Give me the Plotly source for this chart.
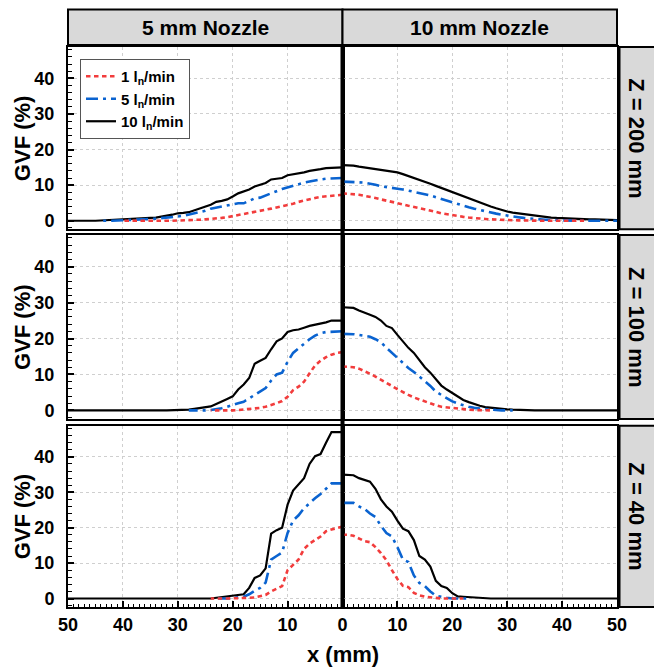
import plotly.graph_objects as go

# ---------------- data (GVF in %, x in mm, 1 mm steps from the axis) ----------------
X_MM = [0, 1, 2, 3, 4, 5, 6, 7, 8, 9, 10, 11, 12, 13, 14, 15, 16, 17, 18, 19, 20,
        21, 22, 23, 24, 25, 26, 27, 28, 29, 30, 31, 32, 33, 34, 35, 36, 37, 38, 39, 40,
        41, 42, 43, 44, 45, 46, 47, 48, 49, 50]

NOZZLES = ["5 mm Nozzle", "10 mm Nozzle"]
HEIGHTS = ["Z = 200 mm", "Z = 100 mm", "Z = 40 mm"]
FLOW_LABELS = ["1 l<sub>n</sub>/min", "5 l<sub>n</sub>/min", "10 l<sub>n</sub>/min"]
X_TICKS_LEFT = [50, 40, 30, 20, 10, 0]
X_TICKS_RIGHT = [10, 20, 30, 40, 50]
Y_TICKS = [0, 10, 20, 30, 40]

# 5 mm nozzle, Z = 200 mm
N5_Z200_Q1 = [7.3, 7.2, 7.1, 6.9, 6.7, 6.4, 6.1, 5.7, 5.3, 4.8, 4.4, 4.0, 3.7, 3.4, 3.1, 2.8, 2.4, 2.1,
              1.7, 1.4, 1.2, 1.0, 0.8, 0.6, 0.5, 0.4, 0.3, 0.2, 0.2, 0.1, 0.1, 0, 0, 0, 0, 0, 0, 0, 0, 0, 0]
N5_Z200_Q5 = [12.0, 12.0, 12.0, 11.8, 11.6, 11.4, 11.0, 10.7, 10.3, 9.8, 9.3, 8.9, 8.3, 7.7, 7.0, 6.5,
              6.3, 5.5, 4.9, 4.9, 4.6, 4.1, 3.8, 3.6, 3.4, 2.8, 2.4, 2.0, 1.7, 1.4, 1.2, 1.0, 0.8, 0.7,
              0.6, 0.5, 0.4, 0.3, 0.2, 0.2, 0.1, 0, 0, 0, 0]
N5_Z200_Q10 = [15.0, 15.0, 15.0, 14.8, 14.5, 14.3, 14.0, 13.6, 13.3, 13.0, 12.8, 12.0, 11.8, 11.6, 10.6,
               10.2, 9.6, 8.8, 8.2, 7.7, 6.8, 6.0, 5.6, 5.3, 4.5, 4.0, 3.4, 2.8, 2.4, 2.2, 2.1, 1.7, 1.4,
               1.2, 0.9, 0.8, 0.7, 0.6, 0.5, 0.4, 0.3, 0.2, 0.2, 0.1, 0.1, 0, 0, 0, 0, 0, 0]

# 10 mm nozzle, Z = 200 mm
N10_Z200_Q1 = [7.7, 7.6, 7.5, 7.3, 7.0, 6.8, 6.4, 6.0, 5.7, 5.3, 5.0, 4.6, 4.2, 3.9, 3.5, 3.1, 2.8, 2.5,
               2.1, 1.8, 1.5, 1.3, 1.1, 0.9, 0.7, 0.6, 0.5, 0.4, 0.3, 0.3, 0.2, 0.2, 0.1, 0.1, 0, 0, 0, 0,
               0, 0, 0, 0, 0, 0, 0]
N10_Z200_Q5 = [11.0, 11.0, 10.9, 10.8, 10.7, 10.5, 10.1, 9.7, 9.4, 9.2, 9.0, 8.8, 8.5, 8.2, 7.8, 7.5, 7.1,
               6.6, 6.1, 5.6, 5.2, 4.7, 4.3, 3.8, 3.4, 3.0, 2.6, 2.3, 2.0, 1.7, 1.4, 1.2, 1.0, 0.8, 0.6,
               0.5, 0.4, 0.3, 0.2, 0.2, 0.1, 0, 0, 0, 0, 0, 0, 0, 0, 0, 0]
N10_Z200_Q10 = [15.6, 15.6, 15.5, 15.2, 15.0, 14.7, 14.5, 14.3, 14.2, 14.0, 13.6, 13.1, 12.6, 12.1, 11.5,
                11.0, 10.4, 9.8, 9.2, 8.6, 8.0, 7.5, 6.9, 6.3, 5.7, 5.1, 4.5, 4.0, 3.5, 3.0, 2.6, 2.3, 2.1,
                1.8, 1.5, 1.3, 1.1, 1.0, 0.9, 0.8, 0.7, 0.6, 0.5, 0.5, 0.4, 0.4, 0.4, 0.3, 0.3, 0.2, 0.2]

# 5 mm nozzle, Z = 100 mm
N5_Z100_Q1 = [16.2, 16.0, 15.5, 14.8, 13.8, 12.5, 10.3, 8.0, 6.6, 5.6, 3.8, 2.6, 2.0, 1.4, 1.0, 0.7, 0.5,
              0.3, 0.2, 0.1, 0, 0, 0, 0, 0]
N5_Z100_Q5 = [22.0, 22.0, 22.0, 21.8, 21.5, 20.8, 19.8, 18.5, 17.2, 16.0, 13.5, 10.5, 10.0, 8.3, 6.2, 5.3,
              4.3, 3.3, 2.4, 2.0, 1.4, 1.0, 0.6, 0.3, 0.1, 0, 0, 0, 0]
N5_Z100_Q10 = [25.0, 25.0, 25.0, 24.5, 24.2, 24.0, 23.5, 23.0, 22.5, 22.3, 21.8, 20.0, 19.2, 17.0, 14.6,
               13.8, 13.0, 9.0, 7.2, 5.8, 3.9, 3.2, 2.6, 1.8, 1.1, 0.8, 0.6, 0.4, 0.2, 0.1, 0, 0, 0, 0, 0,
               0, 0, 0, 0, 0, 0, 0, 0, 0, 0, 0, 0, 0, 0, 0, 0]

# 10 mm nozzle, Z = 100 mm
N10_Z100_Q1 = [12.2, 12.2, 12.0, 11.6, 11.0, 10.2, 9.4, 8.6, 7.7, 6.8, 5.9, 5.0, 4.3, 3.6, 3.0, 2.4, 1.9,
               1.4, 1.0, 0.8, 0.6, 0.4, 0.3, 0.2, 0.1, 0, 0, 0]
N10_Z100_Q5 = [21.3, 21.3, 21.2, 21.0, 20.8, 20.5, 19.8, 19.0, 17.4, 16.0, 14.7, 13.4, 11.8, 10.7, 9.4,
               8.2, 6.8, 5.2, 4.3, 3.3, 2.5, 1.9, 1.4, 1.0, 0.7, 0.5, 0.3, 0.2, 0.1, 0, 0, 0]
N10_Z100_Q10 = [28.7, 28.7, 28.5, 27.8, 27.3, 26.6, 26.0, 25.0, 23.5, 22.9, 21.0, 19.2, 17.4, 16.0, 14.0,
                12.0, 10.5, 8.7, 6.9, 5.8, 4.8, 3.7, 2.9, 2.3, 1.7, 1.3, 0.9, 0.7, 0.5, 0.4, 0.3, 0.2, 0.1,
                0, 0, 0, 0, 0, 0, 0, 0, 0, 0, 0, 0, 0, 0, 0, 0, 0, 0]

# 5 mm nozzle, Z = 40 mm
N5_Z40_Q1 = [20.3, 20.0, 19.5, 19.0, 17.5, 16.5, 15.5, 14.0, 11.0, 9.5, 8.0, 3.5, 2.8, 2.0, 1.0, 0.6, 0.3,
             0.2, 0.1, 0, 0, 0, 0, 0, 0]
N5_Z40_Q5 = [32.5, 32.5, 32.5, 31.0, 29.5, 28.3, 27.0, 25.5, 23.5, 22.0, 18.5, 13.0, 12.0, 11.0, 4.5, 3.0,
             2.2, 1.2, 0.5, 0.3, 0.1, 0, 0, 0]
N5_Z40_Q10 = [47.0, 47.0, 47.0, 44.0, 40.8, 40.2, 38.0, 34.0, 32.4, 30.5, 26.5, 20.0, 19.3, 18.3, 8.5, 6.5,
              5.8, 3.0, 1.2, 1.0, 0.8, 0.4, 0.2, 0.1, 0, 0, 0, 0, 0, 0, 0, 0, 0, 0, 0, 0, 0, 0, 0, 0, 0,
              0, 0, 0, 0, 0, 0, 0, 0, 0, 0]

# 10 mm nozzle, Z = 40 mm
N10_Z40_Q1 = [18.0, 18.0, 17.7, 17.0, 16.2, 15.9, 14.5, 12.8, 10.8, 8.0, 5.5, 3.6, 3.2, 1.6, 0.9, 0.5, 0.3,
              0.1, 0, 0, 0, 0, 0]
N10_Z40_Q5 = [27.0, 27.0, 27.0, 26.0, 25.3, 24.0, 23.0, 20.5, 18.5, 17.5, 14.5, 11.0, 10.3, 6.5, 4.4, 3.5,
              2.0, 0.8, 0.4, 0.2, 0, 0, 0, 0]
N10_Z40_Q10 = [35.0, 35.0, 34.8, 34.0, 33.5, 33.0, 31.0, 28.0, 26.0, 24.5, 22.0, 19.7, 19.0, 16.5, 12.0,
               11.0, 9.0, 5.0, 3.5, 3.0, 1.5, 0.6, 0.5, 0.4, 0.1, 0, 0, 0, 0, 0, 0, 0, 0, 0, 0, 0, 0, 0,
               0, 0, 0, 0, 0, 0, 0, 0, 0, 0, 0, 0, 0]

PANELS = [  # (row, col, [Q1, Q5, Q10])
    (1, 1, [N5_Z200_Q1, N5_Z200_Q5, N5_Z200_Q10]),
    (1, 2, [N10_Z200_Q1, N10_Z200_Q5, N10_Z200_Q10]),
    (2, 1, [N5_Z100_Q1, N5_Z100_Q5, N5_Z100_Q10]),
    (2, 2, [N10_Z100_Q1, N10_Z100_Q5, N10_Z100_Q10]),
    (3, 1, [N5_Z40_Q1, N5_Z40_Q5, N5_Z40_Q10]),
    (3, 2, [N10_Z40_Q1, N10_Z40_Q5, N10_Z40_Q10]),
]

# ---------------- styling / layout ----------------
W, H = 654, 667
L, R, T, B = 68, 37, 47, 60
PW, PH = W - L - R, H - T - B
FONT = "Liberation Sans, Arial, Helvetica, sans-serif"
STYLES = [  # 1, 5, 10 ln/min
    dict(color="#f23c3c", width=2.6, dash="4.5px,3.5px"),
    dict(color="#0a63d0", width=2.6, dash="12px,5px,3px,5px"),
    dict(color="#000000", width=2.2, dash="solid"),
]
ROW_PX = [(47, 229.3), (235, 419), (425.7, 607)]
YRANGE = [-2.4, 48.8]


def fx(px):
    return (px - L) / PW


def fy(py):
    return (H - B - py) / PH


fig = go.Figure()

for row, col, series in PANELS:
    k = (row - 1) * 2 + col
    xa = "x" if k == 1 else f"x{k}"
    ya = "y" if k == 1 else f"y{k}"
    # draw black first, then blue, then red on top
    for i in [2, 1, 0]:
        vals = series[i]
        fig.add_trace(go.Scatter(
            x=X_MM[:len(vals)], y=vals, mode="lines", xaxis=xa, yaxis=ya,
            line=STYLES[i], name=FLOW_LABELS[i], showlegend=(k == 1),
            hoverinfo="skip"))

for row in range(1, 4):
    top, bot = ROW_PX[row - 1]
    for col in range(1, 3):
        k = (row - 1) * 2 + col
        xkey = "xaxis" if k == 1 else f"xaxis{k}"
        ykey = "yaxis" if k == 1 else f"yaxis{k}"
        bottom = row == 3
        left = col == 1
        xax = dict(
            domain=[0, 0.5] if left else [0.5, 1],
            range=[50, 0] if left else [0, 50],
            anchor="y" if k == 1 else f"y{k}",
            showline=True, mirror=True, linecolor="black", linewidth=2,
            showgrid=True, gridcolor="#cfcfcf", griddash="dot", gridwidth=1,
            zeroline=False,
            tickmode="array", tickvals=X_TICKS_LEFT if left else X_TICKS_RIGHT,
            showticklabels=bottom,
            ticks="inside" if bottom else "", ticklen=6, tickwidth=1.5, tickcolor="black",
            tickfont=dict(family=FONT, size=18, color="black", weight="bold"),
        )
        if bottom:
            xax["minor"] = dict(dtick=1, ticks="inside", ticklen=3, tickwidth=1.2,
                                tickcolor="black", showgrid=False)
        yax = dict(
            domain=[fy(bot), fy(top)],
            range=YRANGE,
            anchor="x" if k == 1 else f"x{k}",
            showline=True, mirror=True, linecolor="black", linewidth=2,
            showgrid=True, gridcolor="#cfcfcf", griddash="dot", gridwidth=1,
            zeroline=False,
            tickmode="array", tickvals=Y_TICKS,
            showticklabels=left,
            ticks="inside" if left else "", ticklen=6, tickwidth=1.5, tickcolor="black",
            ticklabelstandoff=8,
            tickfont=dict(family=FONT, size=18, color="black", weight="bold"),
        )
        if left:
            yax["minor"] = dict(dtick=2, ticks="inside", ticklen=4, tickwidth=1.2,
                                tickcolor="black", showgrid=False)
        fig.layout[xkey] = xax
        fig.layout[ykey] = yax

shapes = []
annotations = []
STRIP_FILL = "#d9d9d9"
# column strips
for c, name in enumerate(NOZZLES):
    x0, x1 = (0, 0.5) if c == 0 else (0.5, 1)
    shapes.append(dict(type="rect", xref="paper", yref="paper", x0=x0, x1=x1,
                       y0=fy(45), y1=fy(9.5), fillcolor=STRIP_FILL,
                       line=dict(color="black", width=2), layer="below"))
    annotations.append(dict(text=name, xref="paper", yref="paper", x=(x0 + x1) / 2, y=fy(27.5),
                            showarrow=False, xanchor="center", yanchor="middle",
                            font=dict(family=FONT, size=21, color="black", weight="bold")))
# row strips + y titles
for r, name in enumerate(HEIGHTS):
    top, bot = ROW_PX[r]
    shapes.append(dict(type="rect", xref="paper", yref="paper", x0=fx(619.5), x1=fx(658),
                       y0=fy(bot), y1=fy(top), fillcolor=STRIP_FILL,
                       line=dict(color="black", width=2), layer="below"))
    annotations.append(dict(text=name, xref="paper", yref="paper", x=fx(637), y=fy((top + bot) / 2),
                            showarrow=False, textangle=90, xanchor="center", yanchor="middle",
                            font=dict(family=FONT, size=22, color="black", weight="bold")))
    annotations.append(dict(text="GVF (%)", xref="paper", yref="paper", x=fx(22), y=fy((top + bot) / 2),
                            showarrow=False, textangle=-90, xanchor="center", yanchor="middle",
                            font=dict(family=FONT, size=22, color="black", weight="bold")))
# central divider
shapes.append(dict(type="line", xref="paper", yref="paper", x0=0.5, x1=0.5, y0=fy(607), y1=fy(45),
                   line=dict(color="black", width=4), layer="above"))
# x title
annotations.append(dict(text="x (mm)", xref="paper", yref="paper", x=0.5, y=fy(654),
                        showarrow=False, xanchor="center", yanchor="middle",
                        font=dict(family=FONT, size=22, color="black", weight="bold")))

fig.update_layout(
    width=W, height=H,
    margin=dict(l=L, r=R, t=T, b=B, pad=0),
    paper_bgcolor="white", plot_bgcolor="white",
    font=dict(family=FONT, color="black"),
    shapes=shapes, annotations=annotations,
    showlegend=True,
    legend=dict(x=fx(80), y=fy(59), xanchor="left", yanchor="top",
                traceorder="reversed", bgcolor="white", bordercolor="#555555", borderwidth=1,
                font=dict(family=FONT, size=15, color="black", weight="bold"),
                itemwidth=30, tracegroupgap=0),
)

fig.write_html("out.html",
               config={"displayModeBar": False},
               post_script="document.body.style.margin='0px';document.body.style.padding='0px';"
                           "document.body.style.overflow='hidden';")
